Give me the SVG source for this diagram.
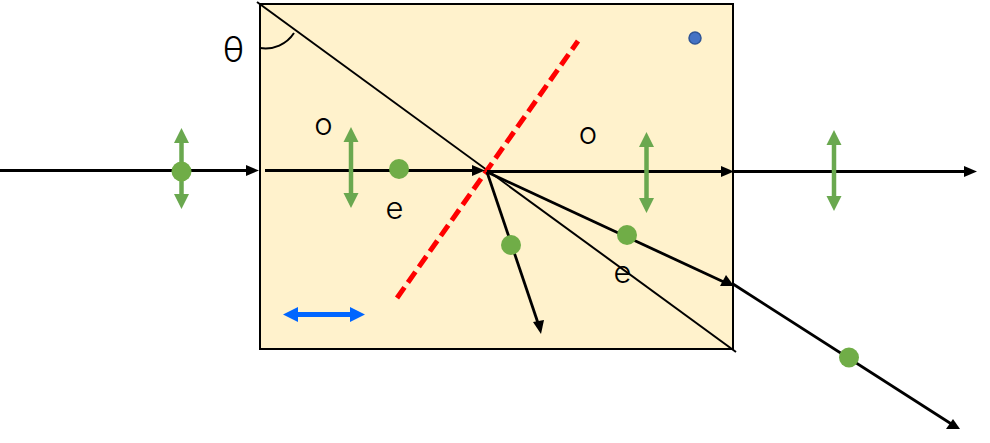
<svg xmlns="http://www.w3.org/2000/svg" width="990" height="443" viewBox="0 0 990 443">
<style>
.ray{stroke:#000;stroke-width:2.8;fill:none}
.thin{stroke:#000;stroke-width:2;fill:none}
.pol{stroke:#6AA84F;stroke-width:4.5;fill:none}
.head{fill:#000}
.ghead{fill:#6AA84F}
.dot{fill:#70AD47}
text{font-family:Inter,"Liberation Sans",Arial,sans-serif;font-weight:300;font-size:31px;fill:#000;text-anchor:middle}
</style>
<rect id="crystal" x="260" y="4" width="473" height="345" fill="#FFF2CC" stroke="#000" stroke-width="2"/>
<g id="connectors">
<path class="thin" d="M257 2L736 352"/>
<path class="thin" d="M260 48A34 34 0 0 0 294 33"/>
<path d="M397 298L578 41" stroke="#FF0000" stroke-width="5" stroke-dasharray="13 6" fill="none"/>
<path class="ray" d="M0 170.500H250"/><path class="head" d="M259 170.500L246 165V176Z"/>
<path class="ray" d="M265 170.500H476"/><path class="head" d="M485 170.500L472 165V176Z"/>
<path class="ray" d="M487 171.500H725"/><path class="head" d="M734 171.500L721 166V177Z"/>
<path class="ray" d="M734 171.500H968"/><path class="head" d="M977 171.500L964 166V177Z"/>
<path class="ray" d="M487 172L726 283"/><path class="head" d="M720 286L726 275L734 286Z"/>
<path class="ray" d="M487 172L539 326"/><path class="head" d="M541 334L533 322L544 320Z"/>
<path class="ray" d="M733 284L953 425"/><path class="head" d="M946 429L953 419L960 429Z"/>
</g>
<g id="pol-1"><path class="pol" d="M181.500 140V197"/><path class="ghead" d="M181.500 128L189 143H174ZM181.500 209L189 194H174Z"/><circle class="dot" cx="181.500" cy="171.500" r="10"/></g>
<g id="pol-2"><path class="pol" d="M351 139V196"/><path class="ghead" d="M351 127L358.500 142H343.500ZM351 208L358.500 193H343.500Z"/></g>
<g id="pol-3"><path class="pol" d="M646.500 144V201"/><path class="ghead" d="M646.500 132L654 147H639ZM646.500 213L654 198H639Z"/></g>
<g id="pol-4"><path class="pol" d="M834 142V199"/><path class="ghead" d="M834 130L841.500 145H826.500ZM834 211L841.500 196H826.500Z"/></g>
<g id="pol-blue"><path d="M293 314.500H354" stroke="#0066FF" stroke-width="5" fill="none"/><path d="M283 314.500L298 307V322ZM365 314.500L350 307V322Z" fill="#0066FF"/></g>
<circle id="dot-1" class="dot" cx="399" cy="169" r="10"/>
<circle id="dot-2" class="dot" cx="511" cy="245" r="10"/>
<circle id="dot-3" class="dot" cx="627" cy="235" r="10"/>
<circle id="dot-4" class="dot" cx="849" cy="357.500" r="10"/>
<circle id="dot-blue" cx="695" cy="38" r="6" fill="#4472C4" stroke="#2F5597" stroke-width="1.500"/>
<text x="233.500" y="62" style="font-size:35px">θ</text>
<text x="323.500" y="134.500">o</text>
<text x="588" y="143.500">o</text>
<text x="394.500" y="218.500">e</text>
<text x="622.500" y="283">e</text>
</svg>
